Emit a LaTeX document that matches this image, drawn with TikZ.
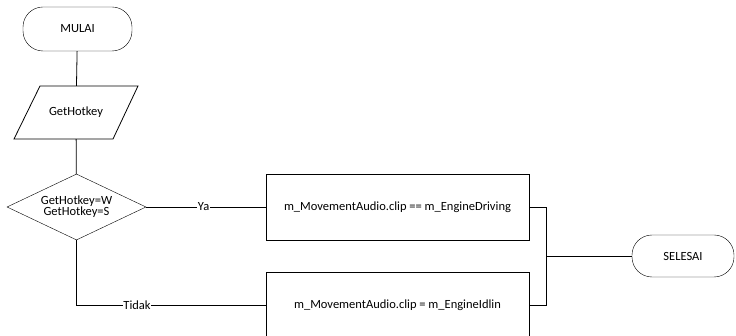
\documentclass[tikz,border=0pt]{standalone}
\usepackage{fontspec}
\setmainfont{Carlito}
\usetikzlibrary{shapes.geometric}
\begin{document}
\begin{tikzpicture}[x=1pt,y=-1pt,
  every node/.style={font=\fontsize{12.5}{14}\selectfont},
  term/.style={draw,rounded corners=20pt,minimum width=109pt,minimum height=44pt,inner sep=0pt},
  dec/.style={draw,diamond,aspect=2.1,minimum width=139pt,minimum height=66pt,inner sep=0pt,align=center},
  proc/.style={draw,minimum width=263pt,minimum height=66pt,inner sep=0pt},
  line/.style={draw,line width=0.8pt},
  lbl/.style={fill=white,inner sep=0.5pt}]
\useasboundingbox (0,0) rectangle (736,336);
\node[term] (start) at (77.5,29) {MULAI};
\node[minimum width=124pt,minimum height=53pt,inner sep=0pt] (in) at (76,112.5) {GetHotkey};
\draw[line] (40,86) -- (138,86) -- (113,139) -- (14,139) -- cycle;
\node[dec] (d) at (76.5,207) {GetHotkey=W\\[-3pt]GetHotkey=S};
\node[proc] (p1) at (397.5,207) {m\_MovementAudio.clip == m\_EngineDriving};
\node[proc] (p2) at (397.5,305) {m\_MovementAudio.clip = m\_EngineIdlin};
\node[term,minimum width=102pt,minimum height=42pt] (end) at (683,256) {SELESAI};
\coordinate (j) at (546,256);
\draw[line] (start) -- (in);
\draw[line] (in) -- (d);
\draw[line] (d.east) -- node[lbl,pos=0.48]{Ya} (p1.west);
\draw[line] (d.south) |- node[lbl,pos=0.66]{Tidak} (p2.west);
\draw[line] (p1.east) -| (j);
\draw[line] (p2.east) -| (j);
\draw[line] (j) -- (end.west);
\end{tikzpicture}
\end{document}
